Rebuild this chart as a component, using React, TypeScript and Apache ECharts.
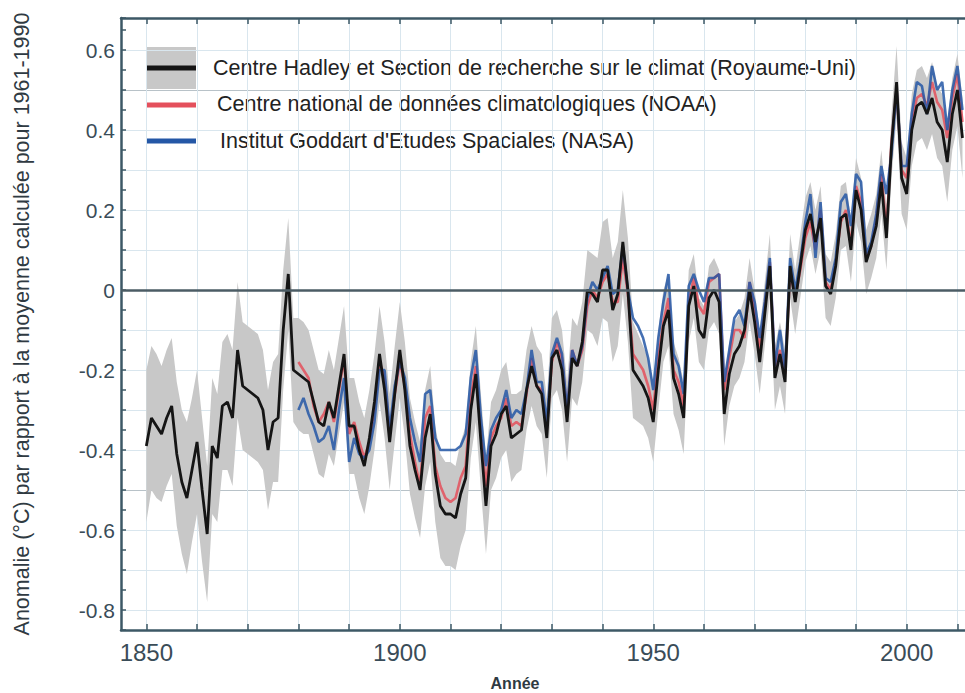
import React, { useEffect, useRef } from "react";
import * as echarts from "echarts";

// ---- data ----
const hadleyStart = 1850;
const hadley = [
  -0.39, -0.32, -0.34, -0.36, -0.32, -0.29, -0.41, -0.48, -0.52, -0.45,
  -0.38, -0.5, -0.61, -0.39, -0.42, -0.29, -0.28, -0.32, -0.15, -0.24,
  -0.25, -0.26, -0.27, -0.3, -0.4, -0.33, -0.32, -0.1, 0.04, -0.2,
  -0.21, -0.22, -0.23, -0.28, -0.33, -0.34, -0.28, -0.32, -0.24, -0.16,
  -0.34, -0.34, -0.4, -0.44, -0.37, -0.28, -0.16, -0.25, -0.38, -0.26,
  -0.15, -0.25, -0.39, -0.45, -0.5, -0.37, -0.31, -0.46, -0.54, -0.56,
  -0.56, -0.57, -0.51, -0.47, -0.3, -0.21, -0.38, -0.54, -0.39, -0.36,
  -0.31, -0.29, -0.37, -0.36, -0.35, -0.25, -0.19, -0.24, -0.26, -0.37,
  -0.17, -0.15, -0.2, -0.33, -0.17, -0.19, -0.13, 0.0, -0.01, -0.03,
  0.05, 0.05, -0.05, -0.01, 0.12, 0.0, -0.2, -0.22, -0.24, -0.27,
  -0.33, -0.2, -0.09, -0.05, -0.22, -0.26, -0.32, -0.04, 0.01, -0.1,
  -0.12, -0.02, 0.0, -0.03, -0.31, -0.21, -0.16, -0.14, -0.1, 0.0,
  -0.08, -0.18, -0.06, 0.06, -0.22, -0.16, -0.23, 0.06, -0.03, 0.06,
  0.15, 0.19, 0.12, 0.18, 0.01, -0.01, 0.06, 0.18, 0.19, 0.1,
  0.25, 0.2, 0.07, 0.11, 0.16, 0.27, 0.13, 0.36, 0.52, 0.28,
  0.24, 0.4, 0.46, 0.47, 0.44, 0.48, 0.42, 0.4, 0.32, 0.44,
  0.5, 0.38,
];
const hadleyHalfWidth = [
  0.19, 0.18, 0.18, 0.17, 0.17, 0.17, 0.18, 0.18, 0.19, 0.18,
  0.18, 0.18, 0.17, 0.17, 0.16, 0.16, 0.17, 0.17, 0.17, 0.16,
  0.16, 0.16, 0.16, 0.15, 0.15, 0.15, 0.16, 0.15, 0.14, 0.13,
  0.14, 0.14, 0.13, 0.13, 0.13, 0.13, 0.13, 0.12, 0.12, 0.12,
  0.12, 0.12, 0.12, 0.12, 0.12, 0.12, 0.12, 0.12, 0.12, 0.12,
  0.12, 0.12, 0.12, 0.12, 0.12, 0.12, 0.12, 0.12, 0.13, 0.13,
  0.13, 0.13, 0.13, 0.13, 0.12, 0.12, 0.12, 0.12, 0.11, 0.11,
  0.11, 0.11, 0.11, 0.1, 0.1, 0.1, 0.1, 0.1, 0.1, 0.1,
  0.1, 0.1, 0.1, 0.1, 0.1, 0.1, 0.1, 0.1, 0.1, 0.11,
  0.12, 0.13, 0.13, 0.13, 0.13, 0.13, 0.12, 0.11, 0.1, 0.1,
  0.1, 0.1, 0.09, 0.09, 0.09, 0.09, 0.09, 0.09, 0.08, 0.08,
  0.08, 0.08, 0.08, 0.08, 0.08, 0.08, 0.08, 0.08, 0.08, 0.08,
  0.08, 0.08, 0.08, 0.08, 0.08, 0.08, 0.08, 0.08, 0.08, 0.08,
  0.08, 0.08, 0.08, 0.08, 0.08, 0.08, 0.08, 0.08, 0.08, 0.08,
  0.08, 0.08, 0.08, 0.08, 0.08, 0.08, 0.08, 0.08, 0.09, 0.09,
  0.09, 0.09, 0.09, 0.09, 0.09, 0.09, 0.09, 0.09, 0.1, 0.09,
  0.09, 0.1,
];
const otherStart = 1880;
const noaa = [
  -0.18, -0.2, -0.22, -0.29, -0.33, -0.31, -0.28, -0.33, -0.25, -0.17,
  -0.36, -0.33, -0.38, -0.42, -0.38, -0.3, -0.18, -0.22, -0.36, -0.26,
  -0.18, -0.24, -0.36, -0.43, -0.49, -0.32, -0.29, -0.44, -0.49, -0.52,
  -0.53, -0.52, -0.47, -0.44, -0.27, -0.19, -0.36, -0.49, -0.37, -0.34,
  -0.32, -0.27, -0.34, -0.33, -0.34, -0.26, -0.17, -0.24, -0.25, -0.35,
  -0.18, -0.13, -0.17, -0.31, -0.15, -0.19, -0.15, -0.04, 0.0, -0.02,
  0.02, 0.04, -0.03, -0.03, 0.08, -0.01, -0.16, -0.18, -0.2, -0.24,
  -0.3, -0.17, -0.08, -0.02, -0.2, -0.23, -0.29, -0.03, 0.03, -0.04,
  -0.06, 0.02, 0.03, 0.04, -0.25, -0.17, -0.1, -0.1, -0.12, 0.02,
  -0.05, -0.15, -0.04, 0.07, -0.19, -0.15, -0.21, 0.05, -0.02, 0.05,
  0.13, 0.17, 0.1, 0.2, 0.02, 0.0, 0.07, 0.17, 0.2, 0.11,
  0.26, 0.22, 0.08, 0.11, 0.18, 0.29, 0.15, 0.37, 0.5, 0.3,
  0.28, 0.42, 0.48, 0.49, 0.46, 0.52, 0.47, 0.45, 0.38, 0.48,
  0.54, 0.42,
];
const nasa = [
  -0.3, -0.27, -0.31, -0.34, -0.38, -0.37, -0.34, -0.4, -0.3, -0.22,
  -0.43, -0.37, -0.41, -0.42, -0.4, -0.33, -0.2, -0.2, -0.35, -0.24,
  -0.18, -0.22, -0.32, -0.38, -0.43, -0.26, -0.25, -0.37, -0.4, -0.4,
  -0.4, -0.4, -0.39, -0.36, -0.22, -0.15, -0.32, -0.44, -0.35, -0.32,
  -0.3, -0.25, -0.32, -0.3, -0.31, -0.25, -0.15, -0.23, -0.23, -0.33,
  -0.16, -0.12, -0.16, -0.3, -0.15, -0.19, -0.14, -0.02, 0.02, 0.0,
  0.03, 0.06, -0.01, 0.0, 0.11, 0.0, -0.07, -0.09, -0.12, -0.17,
  -0.25, -0.12, -0.03, 0.04, -0.16, -0.19, -0.26, 0.01, 0.04, 0.0,
  -0.03, 0.03, 0.03, 0.04, -0.23, -0.15, -0.07, -0.05, -0.09, 0.02,
  -0.03, -0.12, -0.03, 0.08, -0.19, -0.1, -0.2, 0.08, 0.0, 0.07,
  0.17, 0.24, 0.08, 0.22, 0.03, 0.02, 0.08, 0.22, 0.24, 0.16,
  0.29, 0.27, 0.09, 0.12, 0.19, 0.31, 0.24, 0.34, 0.5, 0.31,
  0.31, 0.44, 0.52, 0.51, 0.44, 0.56, 0.5, 0.52, 0.4, 0.5,
  0.56, 0.45,
];
const xLabelYears = [1850, 1900, 1950, 2000];
const xTickYears = [1850, 1860, 1870, 1880, 1890, 1900, 1910, 1920, 1930, 1940, 1950, 1960, 1970, 1980, 1990, 2000, 2010];
const yLabelValues = [-0.8, -0.6, -0.4, -0.2, 0, 0.2, 0.4, 0.6];
const legendLabels = [
  "Centre Hadley et Section de recherche sur le climat (Royaume-Uni)",
  "Centre national de données climatologiques (NOAA)",
  "Institut Goddart d'Etudes Spaciales (NASA)",
];
const yTitle = "Anomalie (°C) par rapport à la moyenne calculée pour 1961-1990";
const xTitle = "Année";

// ---- styles ----
const FONT = "'Liberation Sans', Arial, Helvetica, sans-serif";
const AXIS = "#3d5866";
const LABEL = "#3a4c58";
const GRID = "#d9e6ee";
const GRID_DARK = "#b8c2c8";
const BAND = "#c8c8c8";
const BLACK = "#151515";
const RED = "#e4505c";
const BLUE = "#2457a6";

const Y_MIN = -0.85;
const Y_MAX = 0.68;
const Y_STEP = 0.05;

function yGridColors(): string[] {
  const out: string[] = [];
  const n = Math.round((Y_MAX - Y_MIN) / Y_STEP) + 2;
  for (let i = 0; i < n; i++) {
    const v = Math.round((Y_MIN + i * Y_STEP) * 100) / 100;
    if (v > 0.66) out.push("transparent");
    else if (Math.abs(Math.abs(v) - 0.5) < 1e-6) out.push(GRID_DARK);
    else if (Math.abs(v) < 1e-6) out.push("transparent");
    else if (i % 2 === 1) out.push(GRID);
    else out.push("transparent");
  }
  return out;
}

export default function App() {
  const ref = useRef<HTMLDivElement>(null);
  useEffect(() => {
    if (!ref.current) return;
    const chart = echarts.init(ref.current, undefined, { renderer: "svg" });

    const hadleyData = hadley.map((v, i) => [hadleyStart + i, v]);
    const bandData = hadley.map((v, i) => [
      hadleyStart + i,
      +(v - hadleyHalfWidth[i]).toFixed(3),
      +(v + hadleyHalfWidth[i]).toFixed(3),
    ]);
    const noaaData = noaa.map((v, i) => [otherStart + i, v]);
    const nasaData = nasa.map((v, i) => [otherStart + i, v]);

    chart.setOption({
      animation: false,
      grid: { left: 121, right: 0, top: 18, bottom: 63, containLabel: false },
      xAxis: [
        {
          type: "value",
          min: 1845,
          max: 2011.5,
          interval: 5,
          axisLine: { show: true, onZero: false, lineStyle: { color: AXIS, width: 2.5 } },
          axisTick: {
            show: true,
            inside: true,
            length: 6,
            customValues: xTickYears,
            lineStyle: { color: AXIS, width: 1.5 },
          },
          axisLabel: {
            customValues: xLabelYears,
            formatter: (v: number) => String(v),
            fontSize: 24,
            color: LABEL,
            fontFamily: FONT,
            margin: 10,
          },
          splitLine: { show: true, lineStyle: { color: GRID, width: 1 } },
        },
        {
          type: "value",
          position: "top",
          min: 1845,
          max: 2011.5,
          interval: 5,
          axisLine: { show: true, onZero: false, lineStyle: { color: AXIS, width: 2.5 } },
          axisTick: {
            show: true,
            inside: true,
            length: 6,
            customValues: xTickYears,
            lineStyle: { color: AXIS, width: 1.5 },
          },
          axisLabel: { show: false },
          splitLine: { show: false },
        },
      ],
      yAxis: {
        type: "value",
        min: Y_MIN,
        max: Y_MAX,
        interval: Y_STEP,
        name: yTitle,
        nameLocation: "middle",
        nameGap: 88,
        nameTextStyle: { fontSize: 21.5, color: "#2f3a42", fontFamily: FONT },
        axisLine: { show: true, onZero: false, lineStyle: { color: AXIS, width: 2.5 } },
        axisTick: { show: true, inside: true, length: 5, lineStyle: { color: AXIS, width: 1.5 } },
        axisLabel: {
          fontSize: 21,
          color: LABEL,
          fontFamily: FONT,
          margin: 6,
          formatter: (v: number) => {
            const r = Math.round(v * 10) / 10;
            if (Math.abs(v - r) > 1e-6) return "";
            const hit = yLabelValues.find((t) => Math.abs(t - r) < 1e-6);
            if (hit === undefined) return "";
            return hit === 0 ? "0" : hit.toFixed(1);
          },
        },
        splitLine: { show: true, lineStyle: { color: yGridColors(), width: 1 } },
      },
      series: [
        {
          name: "Incertitude",
          type: "custom",
          silent: true,
          data: bandData,
          encode: { x: 0, y: [1, 2] },
          renderItem: (params: any, api: any) => {
            if (params.dataIndex !== 0) return null;
            const pts: number[][] = [];
            for (let i = 0; i < bandData.length; i++) pts.push(api.coord([bandData[i][0], bandData[i][2]]));
            for (let i = bandData.length - 1; i >= 0; i--) pts.push(api.coord([bandData[i][0], bandData[i][1]]));
            return { type: "polygon", shape: { points: pts }, style: { fill: BAND } };
          },
        },
        {
          name: legendLabels[1],
          type: "line",
          data: noaaData,
          symbol: "none",
          lineStyle: { color: RED, width: 2.6, opacity: 0.85 },
          markLine: {
            silent: true,
            symbol: "none",
            label: { show: false },
            lineStyle: { color: "#4b5c65", width: 2.5, type: "solid" },
            data: [{ yAxis: 0 }],
          },
        },
        {
          name: legendLabels[2],
          type: "line",
          data: nasaData,
          symbol: "none",
          lineStyle: { color: BLUE, width: 2.6, opacity: 0.85 },
        },
        {
          name: legendLabels[0],
          type: "line",
          data: hadleyData,
          symbol: "none",
          lineStyle: { color: BLACK, width: 2.8 },
        },
      ],
      graphic: [
        { type: "rect", shape: { x: 146, y: 47, width: 50, height: 42 }, style: { fill: BAND } },
        { type: "line", shape: { x1: 146, y1: 68, x2: 196, y2: 68 }, style: { stroke: BLACK, lineWidth: 5 } },
        { type: "line", shape: { x1: 146, y1: 105, x2: 196, y2: 105 }, style: { stroke: RED, lineWidth: 5 } },
        { type: "line", shape: { x1: 146, y1: 141, x2: 196, y2: 141 }, style: { stroke: BLUE, lineWidth: 5 } },
        {
          type: "text",
          x: 213,
          y: 68,
          style: { text: legendLabels[0], fill: "#222", font: `21.5px ${FONT}`, textVerticalAlign: "middle" },
        },
        {
          type: "text",
          x: 217,
          y: 104,
          style: { text: legendLabels[1], fill: "#222", font: `21.5px ${FONT}`, textVerticalAlign: "middle" },
        },
        {
          type: "text",
          x: 220,
          y: 141,
          style: { text: legendLabels[2], fill: "#222", font: `21.5px ${FONT}`, textVerticalAlign: "middle" },
        },
        {
          type: "text",
          x: 515,
          y: 683,
          style: {
            text: xTitle,
            fill: "#2f3a42",
            font: `bold 16px ${FONT}`,
            textAlign: "center",
            textVerticalAlign: "middle",
          },
        },
      ],
    });
    return () => chart.dispose();
  }, []);
  return <div ref={ref} style={{ width: 965, height: 693, position: "absolute", left: 0, top: 0, background: "#fff" }} />;
}
